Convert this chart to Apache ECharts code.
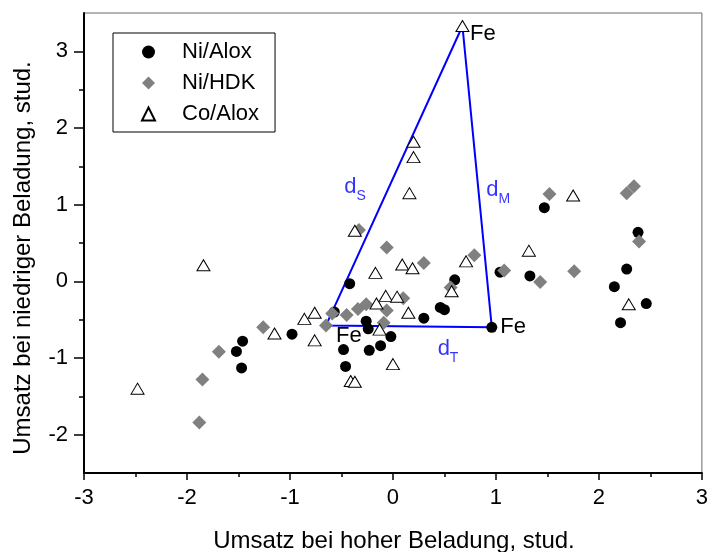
<!DOCTYPE html>
<html>
<head>
<meta charset="utf-8">
<script src="https://cdn.jsdelivr.net/npm/echarts@6/dist/echarts.min.js"></script>
<style>
  html, body { margin: 0; padding: 0; background: #fff; }
  #chart { width: 711px; height: 552px; }
</style>
</head>
<body>
<div id="chart"></div>
<script>
// Standardised conversions: high loading (x) vs. low loading (y)
const niAloxX = [-0.42, -1.46, -1.52, -1.47, -0.98, -0.57, -0.26, -0.24, -0.48, -0.23, -0.12, -0.02, -0.46, 0.60, 0.46, 0.50, 0.30, 0.96, 1.04, 1.47, 2.38, 1.33, 2.27, 2.15, 2.46, 2.21];
const niAloxY = [-0.03, -0.78, -0.915, -1.13, -0.69, -0.40, -0.52, -0.62, -0.89, -0.90, -0.84, -0.72, -1.11, 0.02, -0.34, -0.37, -0.48, -0.60, 0.12, 0.96, 0.64, 0.07, 0.16, -0.07, -0.29, -0.54];
const niAloxFe = 17;

const niHdkX = [-1.26, -1.69, -1.85, -1.88, -0.65, -0.59, -0.45, -0.34, -0.26, -0.06, -0.09, 0.10, -0.06, -0.33, 0.30, 0.79, 0.56, 1.08, 1.52, 2.27, 2.34, 2.39, 1.43, 1.76];
const niHdkY = [-0.60, -0.92, -1.28, -1.84, -0.575, -0.42, -0.44, -0.36, -0.30, -0.38, -0.54, -0.22, 0.44, 0.67, 0.24, 0.34, -0.08, 0.14, 1.14, 1.15, 1.24, 0.52, -0.01, 0.13];
const niHdkFe = 4;

const coAloxX = [-2.48, -1.84, -1.15, -0.86, -0.76, -0.76, -0.41, -0.37, -0.16, -0.07, 0.04, 0.15, -0.13, 0.00, -0.37, -0.17, 0.09, 0.19, 0.71, 0.57, 0.675, 0.20, 0.20, 0.16, 1.32, 1.75, 2.29];
const coAloxY = [-1.40, 0.21, -0.68, -0.49, -0.41, -0.77, -1.30, -1.31, -0.29, -0.19, -0.20, -0.41, -0.63, -1.08, 0.66, 0.11, 0.22, 0.17, 0.26, -0.13, 3.33, 1.82, 1.62, 1.15, 0.40, 1.12, -0.30];
const coAloxFe = 20;

const seriesNames = ['Ni/Alox', 'Ni/HDK', 'Co/Alox'];

// Axis ticks and labels
const xTicks = [-3, -2, -1, 0, 1, 2, 3];
const yMajorTicks = [-2, -1, 0, 1, 2, 3];
const yMinorTicks = [-1.5, -0.5, 0.5, 1.5, 2.5];

// Distance annotations d_S, d_M, d_T (main text, subscript, anchor in data units)
const distMain = ['d', 'd', 'd'];
const distSub = ['S', 'M', 'T'];
const distX = [-0.473, 0.907, 0.434];
const distY = [1.11, 1.07, -1.0];

const FONT = "'Liberation Sans', Arial, Helvetica, sans-serif";
const BLUE = '#0000ff';

const pairs = (xs, ys) => xs.map((x, i) => [x, ys[i]]);

function withFeLabel(xs, ys, feIdx, labelOpt) {
  return pairs(xs, ys).map((p, i) => i === feIdx ? {
    value: p,
    label: Object.assign({
      show: true, formatter: 'Fe', color: '#000', fontSize: 22, fontFamily: FONT, position: 'right'
    }, labelOpt)
  } : p);
}

const coFe = [coAloxX[coAloxFe], coAloxY[coAloxFe]];
const niAFe = [niAloxX[niAloxFe], niAloxY[niAloxFe]];
const niHFe = [niHdkX[niHdkFe], niHdkY[niHdkFe]];

const chart = echarts.init(document.getElementById('chart'), null, { renderer: 'canvas' });

const option = {
  animation: false,
  backgroundColor: '#fff',
  grid: {
    left: 84, right: 5, top: 13, bottom: 79,
    show: true, borderColor: '#6a6a6a', borderWidth: 1, backgroundColor: 'transparent'
  },
  legend: {
    data: seriesNames,
    orient: 'vertical',
    left: 113, top: 33,
    itemWidth: 13, itemHeight: 13, itemGap: 9,
    padding: [8, 16, 7, 28],
    borderColor: '#000', borderWidth: 1,
    itemStyle: { opacity: 1 },
    textStyle: { fontSize: 22, lineHeight: 20, fontFamily: FONT, color: '#000', padding: [0, 0, 0, 22] }
  },
  xAxis: {
    type: 'value', min: xTicks[0], max: xTicks[xTicks.length - 1], interval: 1,
    axisLine: { onZero: false, lineStyle: { color: '#000', width: 2 } },
    axisTick: { length: 7, lineStyle: { color: '#000', width: 1.5 } },
    minorTick: { show: true, splitNumber: 2, length: 4, lineStyle: { color: '#000', width: 1.5 } },
    axisLabel: { margin: 14, fontSize: 22, color: '#000', fontFamily: FONT },
    splitLine: { show: false }
  },
  yAxis: [{
    type: 'value', min: -2.5, max: 3.5, position: 'left',
    axisLine: { onZero: false, lineStyle: { color: '#000', width: 2 } },
    axisTick: { customValues: yMajorTicks, length: 10, lineStyle: { color: '#000', width: 1.5 } },
    axisLabel: { customValues: yMajorTicks, margin: 16, fontSize: 22, color: '#000', fontFamily: FONT },
    splitLine: { show: false }
  }, {
    type: 'value', min: -2.5, max: 3.5, position: 'left',
    axisLine: { show: false, onZero: false },
    axisTick: { customValues: yMinorTicks, length: 5, lineStyle: { color: '#000', width: 1.5 } },
    axisLabel: { show: false },
    splitLine: { show: false }
  }],
  graphic: [{
    type: 'text', x: 394, y: 541,
    style: { text: 'Umsatz bei hoher Beladung, stud.', fontSize: 24, fontFamily: FONT, fill: '#000', align: 'center', verticalAlign: 'middle' }
  }, {
    type: 'text', x: 23, y: 258, rotation: Math.PI / 2,
    style: { text: 'Umsatz bei niedriger Beladung, stud.', fontSize: 24, fontFamily: FONT, fill: '#000', align: 'center', verticalAlign: 'middle' }
  }],
  series: [{
    name: 'outline', type: 'line', yAxisIndex: 0,
    data: [coFe, niAFe, niHFe, coFe],
    symbol: 'none', silent: true,
    lineStyle: { color: BLUE, width: 2 }, z: 1
  }, {
    name: seriesNames[0], type: 'scatter', symbol: 'circle', symbolSize: 11,
    itemStyle: { color: '#000', opacity: 1 },
    data: withFeLabel(niAloxX, niAloxY, niAloxFe, { distance: 3, offset: [0, 0] }), z: 2
  }, {
    name: seriesNames[1], type: 'scatter', symbol: 'diamond', symbolSize: 14,
    itemStyle: { color: '#808080', opacity: 1 },
    data: withFeLabel(niHdkX, niHdkY, niHdkFe, { distance: 3, offset: [0, 11] }), z: 3
  }, {
    name: seriesNames[2], type: 'scatter', symbol: 'triangle', symbolSize: [13, 11],
    itemStyle: { color: '#fff', borderColor: '#000', borderWidth: 1, opacity: 1 },
    data: withFeLabel(coAloxX, coAloxY, coAloxFe, { distance: 0.5, offset: [0, 8] }), z: 4
  }, {
    name: 'distances', type: 'scatter', symbolSize: 0, silent: true, z: 5,
    data: distX.map((x, i) => ({
      value: [x, distY[i]],
      label: { formatter: '{d|' + distMain[i] + '}{s|' + distSub[i] + '}' }
    })),
    label: {
      show: true, position: 'right', distance: 0,
      rich: {
        d: { fontSize: 22, lineHeight: 22, verticalAlign: 'top', color: BLUE, fontFamily: FONT },
        s: { fontSize: 14, lineHeight: 40, color: BLUE, fontFamily: FONT }
      }
    }
  }]
};

chart.setOption(option);
</script>
</body>
</html>
